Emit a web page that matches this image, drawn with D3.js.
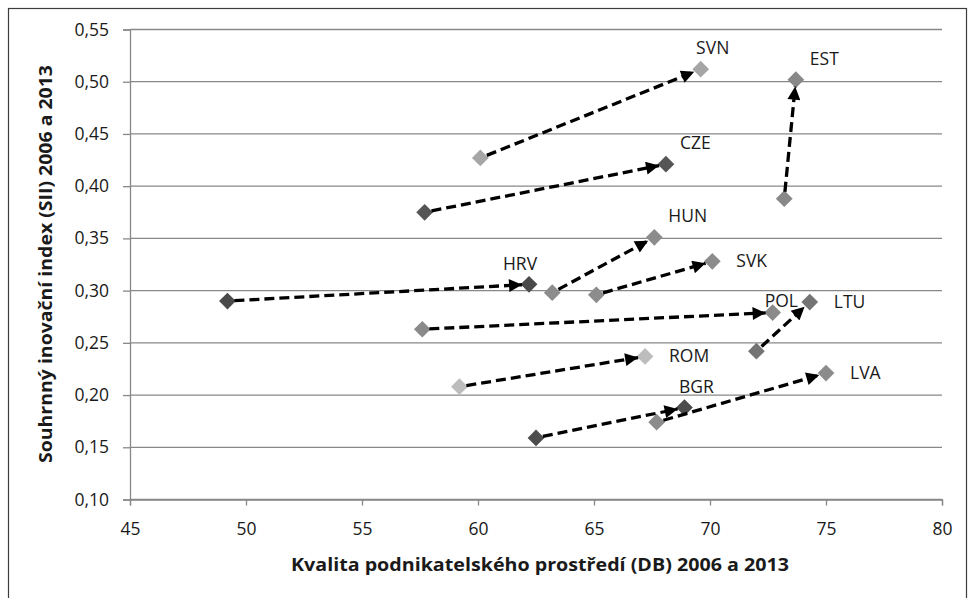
<!DOCTYPE html>
<html>
<head>
<meta charset="utf-8">
<script src="https://cdn.jsdelivr.net/npm/d3@7"></script>
<style>
  body { margin: 0; background: #fff; }
  text { font-family: "Open Sans", sans-serif; fill: #1a1a1a; }
</style>
</head>
<body>
<div id="chart"></div>
<script>
// countries (arrow from 2006 to 2013)
var countries = ["SVN", "EST", "CZE", "HRV", "HUN", "SVK", "POL", "LTU", "ROM", "BGR", "LVA"];
var db2006  = [60.1, 73.2, 57.7, 49.2, 63.2, 65.1, 57.6, 72.0, 59.2, 62.5, 67.7];
var db2013  = [69.6, 73.7, 68.1, 62.2, 67.6, 70.1, 72.7, 74.3, 67.2, 68.9, 75.0];
var sii2006 = [0.427, 0.388, 0.375, 0.290, 0.298, 0.296, 0.263, 0.242, 0.208, 0.159, 0.174];
var sii2013 = [0.512, 0.502, 0.421, 0.306, 0.351, 0.328, 0.279, 0.289, 0.237, 0.188, 0.221];
var xTicks = [45, 50, 55, 60, 65, 70, 75, 80];
var yTicks = [0.10, 0.15, 0.20, 0.25, 0.30, 0.35, 0.40, 0.45, 0.50, 0.55];

// styling per country
var shade = ["#a6a6a6", "#888888", "#555555", "#4a4a4a", "#8c8c8c", "#8c8c8c", "#8a8a8a", "#747474", "#bdbdbd", "#4d4d4d", "#8c8c8c"];
// label placement relative to the 2013 point
var labelPlace = ["above", "aboveright", "aboveright", "aboveleft", "aboveright", "right", "abovel", "right", "right", "above", "right"];

var W = 968, H = 598;
var svg = d3.select("#chart").append("svg")
    .attr("width", W)
    .attr("height", H);

svg.append("rect")
    .attr("x", 8.5).attr("y", 8.5)
    .attr("width", 958).attr("height", 620)
    .attr("fill", "#fff")
    .attr("stroke", "#3c3c3c")
    .attr("stroke-width", 1.2);

var x = d3.scaleLinear().domain([45, 80]).range([130, 942]);
var y = d3.scaleLinear().domain([0.10, 0.55]).range([499.5, 29.5]);

// gridlines
svg.append("g").selectAll("line")
    .data(yTicks)
    .enter().append("line")
    .attr("x1", x(45)).attr("x2", x(80))
    .attr("y1", function(d) { return y(d); })
    .attr("y2", function(d) { return y(d); })
    .attr("stroke", "#888")
    .attr("stroke-width", 1.3);

// axes
var fmt = function(d) { return d3.format(".2f")(d).replace(".", ","); };
var yAxis = svg.append("g")
    .attr("transform", "translate(" + x(45) + ",0)")
    .call(d3.axisLeft(y).tickValues(yTicks).tickFormat(fmt).tickSize(7).tickPadding(14));
var xAxis = svg.append("g")
    .attr("transform", "translate(0," + y(0.10) + ")")
    .call(d3.axisBottom(x).tickValues(xTicks).tickFormat(d3.format("d")).tickSize(6).tickPadding(17));

[yAxis, xAxis].forEach(function(a) {
  a.select(".domain").attr("stroke", "#888").attr("stroke-width", 1.3);
  a.selectAll(".tick line").attr("stroke", "#888").attr("stroke-width", 1.3);
  a.selectAll(".tick text")
    .attr("font-family", "Open Sans, sans-serif")
    .attr("font-size", "17.5px")
    .attr("fill", "#1a1a1a");
});

// axis titles
svg.append("text")
    .attr("x", 540).attr("y", 571)
    .attr("text-anchor", "middle")
    .attr("font-size", "17px")
    .attr("font-weight", "bold")
    .attr("textLength", 498)
    .attr("lengthAdjust", "spacingAndGlyphs")
    .text("Kvalita podnikatelského prostředí (DB) 2006 a 2013");

svg.append("text")
    .attr("transform", "translate(52,264) rotate(-90)")
    .attr("text-anchor", "middle")
    .attr("font-size", "17px")
    .attr("font-weight", "bold")
    .attr("textLength", 398)
    .attr("lengthAdjust", "spacingAndGlyphs")
    .text("Souhrnný inovační index (SII) 2006 a 2013");

// arrowhead
svg.append("defs").append("marker")
    .attr("id", "head")
    .attr("viewBox", "0 0 10 10")
    .attr("refX", 10).attr("refY", 5)
    .attr("markerUnits", "userSpaceOnUse")
    .attr("markerWidth", 19).attr("markerHeight", 13)
    .attr("orient", "auto")
  .append("path")
    .attr("d", "M0,0 L10,5 L0,10 Z")
    .attr("fill", "#000");

var idx = d3.range(countries.length);
var diamond = d3.symbol().type(d3.symbolSquare).size(140);

// markers
var pts = svg.append("g");
idx.forEach(function(i) {
  [[db2006[i], sii2006[i]], [db2013[i], sii2013[i]]].forEach(function(p) {
    pts.append("path")
      .attr("d", diamond())
      .attr("transform", "translate(" + x(p[0]) + "," + y(p[1]) + ") rotate(45)")
      .attr("fill", shade[i]);
  });
});

// arrows
svg.append("g").selectAll("line")
    .data(idx)
    .enter().append("line")
    .each(function(i) {
      var x1 = x(db2006[i]), y1 = y(sii2006[i]);
      var x2 = x(db2013[i]), y2 = y(sii2013[i]);
      var len = Math.sqrt((x2 - x1) * (x2 - x1) + (y2 - y1) * (y2 - y1));
      var ux = (x2 - x1) / len, uy = (y2 - y1) / len;
      d3.select(this)
        .attr("x1", x1 + ux * 7).attr("y1", y1 + uy * 7)
        .attr("x2", x2 - ux * 7).attr("y2", y2 - uy * 7);
    })
    .attr("stroke", "#000")
    .attr("stroke-width", 3.3)
    .attr("stroke-dasharray", "10,5")
    .attr("marker-end", "url(#head)");

// labels
var offs = {
  above: [12, -15, "middle"],
  aboveleft: [-9, -14, "middle"],
  aboveright: [14, -15, "start"],
  abovel: [-8, -6, "start"],
  right: [24, 6, "start"]
};
svg.append("g").selectAll("text")
    .data(idx)
    .enter().append("text")
    .attr("x", function(i) { return x(db2013[i]) + offs[labelPlace[i]][0]; })
    .attr("y", function(i) { return y(sii2013[i]) + offs[labelPlace[i]][1]; })
    .attr("text-anchor", function(i) { return offs[labelPlace[i]][2]; })
    .attr("font-size", "17.5px")
    .text(function(i) { return countries[i]; });
</script>
</body>
</html>
